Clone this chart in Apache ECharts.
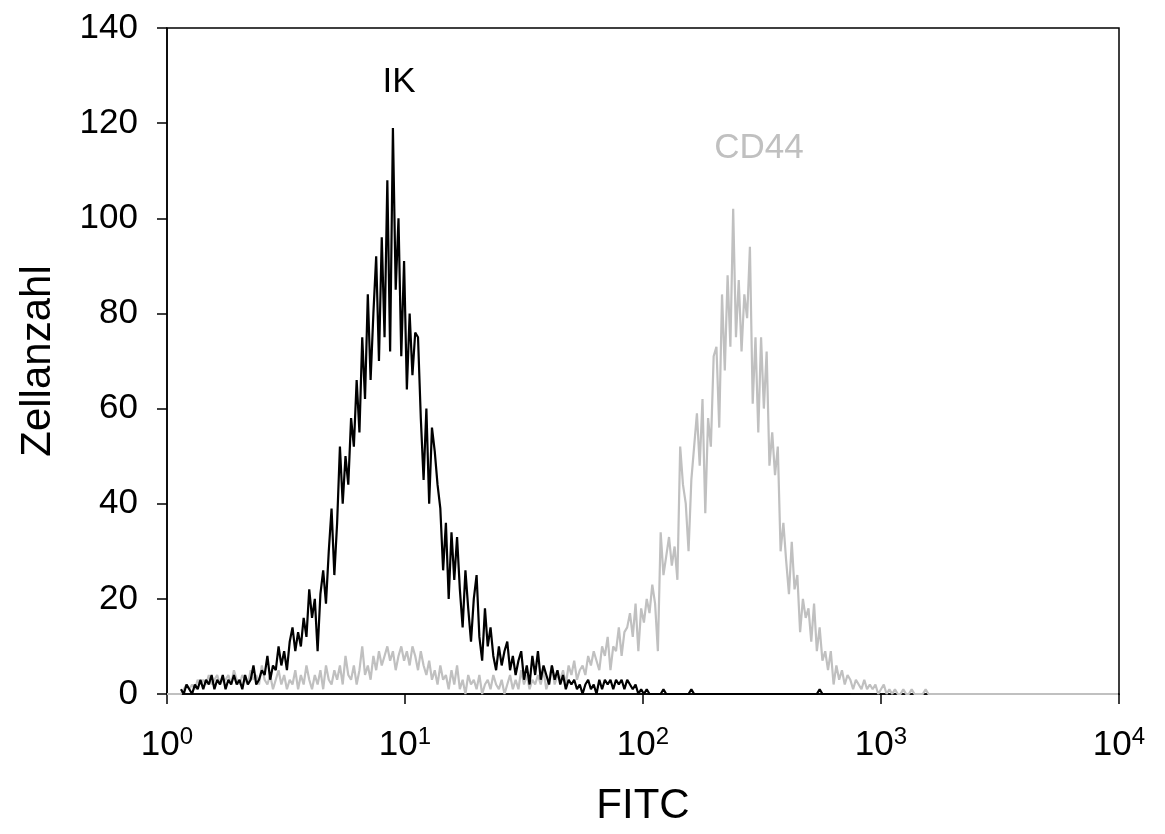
<!DOCTYPE html>
<html>
<head>
<meta charset="utf-8">
<title>FITC histogram</title>
<script src="https://cdn.jsdelivr.net/npm/echarts@6/dist/echarts.min.js"></script>
<style>
  html, body { margin: 0; padding: 0; background: #ffffff; }
  #chart { width: 1165px; height: 834px; }
</style>
</head>
<body>
<div id="chart"></div>
<script>
// Instrument scale: 1024 channels over 4 log decades (256 channels / decade)
const CHANNELS_PER_DECADE = 256;
const CHANNEL_STEP = 3;

// Series names
const seriesNames = ['IK', 'CD44'];

// IK (isotype control), cell counts read every 3 channels, starting at channel 15
const ikStartChannel = 15;
const ikCounts = [
  1,0,2,1,0,2,1,3,
  1,3,2,4,1,3,2,4,
  1,3,2,4,2,3,1,4,
  2,3,6,2,
  3,5,4,8,3,6,5,10,
  6,9,5,11,14,
  9,13,10,16,12,
  22,16,20,9,21,
  26,19,30,39,25,
  36,52,40,50,44,
  58,52,66,55,75,
  62,84,66,80,92,
  70,96,75,108,72,
  119,85,100,71,91,
  64,80,67,76,75,
  58,45,60,40,56,
  51,44,39,26,36,
  20,34,24,33,22,
  14,26,18,11,20,
  25,12,7,18,10,
  14,8,5,10,6,
  9,11,5,8,4,
  7,9,3,6,2,
  8,4,9,3,6,
  4,2,6,3,5,
  2,4,1,3,2,
  3,1,2,0,2,
  3,1,2,0,3,
  1,3,2,3,1,
  3,2,3,1,3,
  2,1,2,0,1,
  0,1,0,0,0,
  0,0,1,0,0,0,0,0,0,0,
  0,0,1,0,0,0,0,0,0,0,
  0,0,0,0,0,0,0,0,0,0,
  0,0,0,0,0,0,0,0,0,0,
  0,0,0,0,0,0,0,0,0,0,
  0,0,0,0,0,0,0,0,1,0,
  0,0,0,0,0,0,0,0,0,0
];

// CD44, cell counts read every 3 channels, starting at channel 0
const cd44StartChannel = 0;
const cd44Counts = [
  0,0,0,0,0,
  0,1,2,1,2,1,3,2,
  3,2,4,2,3,4,2,3,
  3,4,2,5,3,2,4,3,
  2,5,3,4,2,6,3,2,
  4,1,3,5,2,4,1,3,
  2,5,1,4,2,6,3,1,
  4,2,5,1,6,3,2,5,
  3,6,2,8,4,3,6,2,
  5,10,4,6,3,8,5,9,
  6,8,10,7,9,5,8,10,
  7,9,6,10,8,5,9,6,
  4,7,3,5,2,6,3,4,
  1,5,2,6,1,3,0,4,
  2,3,1,4,0,2,3,1,
  4,2,1,3,0,2,4,1,
  3,1,5,2,4,1,3,2,
  4,2,5,1,3,6,2,4,
  3,5,2,6,4,7,3,5,
  6,4,8,6,9,7,5,10,
  8,12,5,10,9,14,8,13,
  14,17,12,19,9,18,15,20,
  17,23,19,9,34,25,29,33,
  27,31,24,52,44,40,30,45,
  52,59,48,62,38,58,52,71,
  73,56,84,68,88,73,102,75,
  87,72,84,79,94,61,75,55,
  75,60,72,48,55,46,52,30,
  36,28,21,32,22,25,13,20,
  16,18,11,19,9,14,7,9,
  5,9,2,6,3,5,2,4,
  3,1,3,2,1,3,1,2,
  1,2,0,1,2,0,1,0,
  1,0,0,1,0,0,1,0,0,0,
  0,1,0,0,0,0,0,0,0,0,
  0,0,0,0,0,0,0,0,0,0,
  0,0,0,0,0,0,0,0,0,0,
  0,0,0,0,0,0,0,0,0,0,
  0,0,0,0,0,0,0,0,0,0,
  0,0,0,0,0,0,0,0,0,0,
  0,0,0,0,0,0,0,0,0,0,0
];

// Axis ticks
const xTickExponents = [0, 1, 2, 3, 4];
const yMin = 0, yMax = 140, yInterval = 20;
const xAxisTitle = 'FITC';
const yAxisTitle = 'Zellanzahl';

function toPairs(startChannel, counts) {
  return counts.map(function (v, k) {
    const ch = startChannel + k * CHANNEL_STEP;
    return [Math.pow(10, ch / CHANNELS_PER_DECADE), v];
  });
}

const FONT = "'Liberation Sans', Arial, Helvetica, sans-serif";
const chart = echarts.init(document.getElementById('chart'), null, { renderer: 'canvas' });

const option = {
  animation: false,
  backgroundColor: '#ffffff',
  grid: {
    left: 167, right: 46, top: 28, bottom: 140,
    show: true, borderColor: '#000000', borderWidth: 1.5,
    backgroundColor: 'transparent'
  },
  xAxis: {
    type: 'log',
    logBase: 10,
    min: Math.pow(10, xTickExponents[0]),
    max: Math.pow(10, xTickExponents[xTickExponents.length - 1]),
    name: xAxisTitle,
    nameLocation: 'middle',
    nameGap: 91,
    nameTextStyle: { fontFamily: FONT, fontSize: 42, color: '#000' },
    axisLine: { show: true, lineStyle: { color: '#000', width: 1.5 } },
    axisTick: { show: true, inside: false, length: 10, lineStyle: { color: '#000', width: 1.5 } },
    minorTick: { show: false },
    splitLine: { show: false },
    axisLabel: {
      margin: 31,
      color: '#000',
      formatter: function (v) {
        const e = Math.round(Math.log10(v));
        return '{b|10}{s|' + e + '}';
      },
      rich: {
        b: { fontFamily: FONT, fontSize: 35, lineHeight: 40, color: '#000' },
        s: { fontFamily: FONT, fontSize: 24, lineHeight: 31, verticalAlign: 'top', color: '#000' }
      }
    }
  },
  yAxis: {
    type: 'value',
    min: yMin, max: yMax, interval: yInterval,
    name: yAxisTitle,
    nameLocation: 'middle',
    nameGap: 108,
    nameTextStyle: { fontFamily: FONT, fontSize: 42, color: '#000' },
    axisLine: { show: true, lineStyle: { color: '#000', width: 1.5 } },
    axisTick: { show: true, inside: false, length: 10, lineStyle: { color: '#000', width: 1.5 } },
    splitLine: { show: false },
    axisLabel: { margin: 29, fontFamily: FONT, fontSize: 35, color: '#000' }
  },
  series: [
    {
      name: seriesNames[1],
      type: 'line',
      data: toPairs(cd44StartChannel, cd44Counts),
      showSymbol: false,
      symbol: 'none',
      lineStyle: { color: '#c0c0c0', width: 2.2 },
      z: 2
    },
    {
      name: seriesNames[0],
      type: 'line',
      data: toPairs(ikStartChannel, ikCounts),
      showSymbol: false,
      symbol: 'none',
      lineStyle: { color: '#000000', width: 2.2 },
      z: 3
    }
  ],
  graphic: [
    {
      type: 'text', x: 399, y: 82, z: 10,
      style: { text: seriesNames[0], font: '35px ' + FONT, fill: '#000',
        textAlign: 'center', textVerticalAlign: 'middle', align: 'center', verticalAlign: 'middle' }
    },
    {
      type: 'text', x: 759, y: 148, z: 10,
      style: { text: seriesNames[1], font: '35px ' + FONT, fill: '#c0c0c0',
        textAlign: 'center', textVerticalAlign: 'middle', align: 'center', verticalAlign: 'middle' }
    }
  ]
};

chart.setOption(option);
</script>
</body>
</html>
